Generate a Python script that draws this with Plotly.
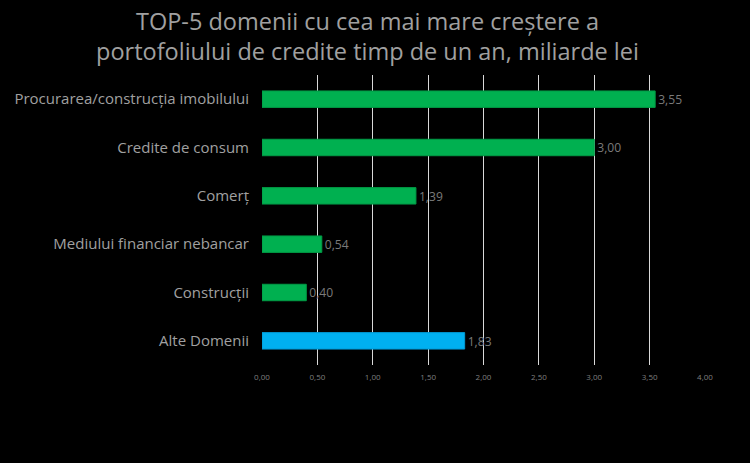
import plotly.graph_objects as go

# data
categories = ['Procurarea/construcția imobilului', 'Credite de consum', 'Comerț',
              'Mediului financiar nebancar', 'Construcții', 'Alte Domenii']
values = [3.55, 3.00, 1.39, 0.54, 0.40, 1.83]
bar_colors = ['#00b050', '#00b050', '#00b050', '#00b050', '#00b050', '#00b0f0']
line_colors = ['#009a45', '#009a45', '#009a45', '#009a45', '#009a45', '#0099d4']
tick_vals = [0, 0.5, 1, 1.5, 2, 2.5, 3, 3.5, 4]

font_name = 'Open Sans'

fig = go.Figure(go.Bar(
    x=values, y=categories, orientation='h',
    marker=dict(color=bar_colors, line=dict(color=line_colors, width=1)),
    width=0.34,
    texttemplate='%{x:.2f}',
    textposition='outside', cliponaxis=False,
    textfont=dict(color='#7a7a7a', size=14, family=font_name),
))

fig.update_layout(
    width=750, height=463,
    paper_bgcolor='black', plot_bgcolor='black',
    separators=', ',
    margin=dict(l=262, r=45, t=75, b=98),
    title=dict(text='TOP-5 domenii cu cea mai mare creștere a<br>portofoliului de credite timp de un an, miliarde lei',
               x=0.49, xanchor='center', y=0.936, yanchor='top',
               font=dict(color='#a0a0a0', size=23.5, family=font_name)),
    showlegend=False,
)
fig.update_xaxes(range=[0, 4], tickvals=tick_vals, tickformat='.2f',
                 showgrid=True, gridcolor='#d9d9d9', gridwidth=1,
                 zeroline=False, showline=False, ticklabelstandoff=6,
                 tickfont=dict(color='#7f7f7f', size=8, family=font_name))
fig.update_yaxes(autorange='reversed', showgrid=False, zeroline=False,
                 showline=False, ticks='', ticklabelstandoff=12,
                 tickfont=dict(color='#a0a0a0', size=15, family=font_name))

fig.write_html('out.html', config={'displayModeBar': False},
               post_script="document.body.style.margin='0';document.body.style.background='black';")
